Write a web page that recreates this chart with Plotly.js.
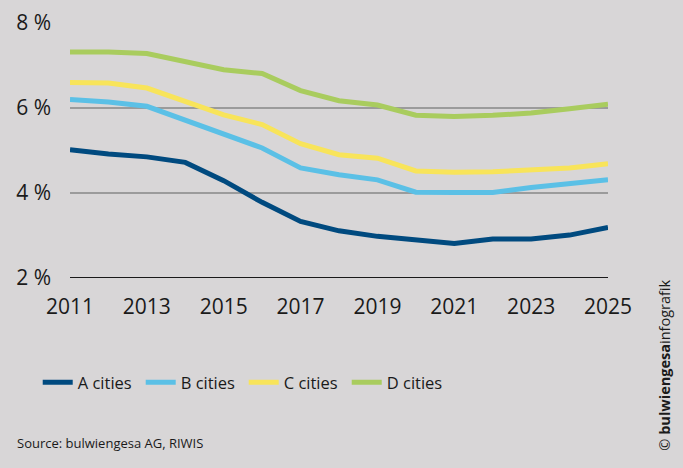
<!DOCTYPE html>
<html>
<head>
<meta charset="utf-8">
<script src="https://cdn.plot.ly/plotly-3.0.1.min.js"></script>
<style>
html,body{margin:0;padding:0;background:#d8d6d7;}
#chart{width:683px;height:468px;}
</style>
</head>
<body>
<div id="chart"></div>
<script>
const years = [2011,2012,2013,2014,2015,2016,2017,2018,2019,2020,2021,2022,2023,2024,2025];
const seriesNames = ["A cities","B cities","C cities","D cities"];
const aCities = [5.02,4.92,4.85,4.72,4.29,3.78,3.33,3.11,2.98,2.90,2.81,2.92,2.92,3.01,3.19];
const bCities = [6.20,6.14,6.04,5.71,5.37,5.06,4.59,4.43,4.31,4.02,4.01,4.01,4.13,4.22,4.31];
const cCities = [6.60,6.59,6.47,6.16,5.84,5.61,5.16,4.90,4.82,4.52,4.49,4.50,4.54,4.59,4.69];
const dCities = [7.32,7.32,7.28,7.10,6.90,6.81,6.41,6.17,6.07,5.83,5.80,5.83,5.88,5.98,6.09];
const colors = ["#004a7f","#5bc0e6","#f8e45a","#a9cc5e"];
const xTicks = [2011,2013,2015,2017,2019,2021,2023,2025];
const yTicks = [2,4,6,8];
const yTickText = ["2 %","4 %","6 %","8 %"];

const allSeries = [aCities,bCities,cCities,dCities];
const traces = allSeries.map((vals,i)=>({
  x: years, y: vals, name: seriesNames[i], type:"scatter", mode:"lines",
  line:{color:colors[i], width:5}
}));

const bodyFont = "'Open Sans',sans-serif";
const layout = {
  width:683, height:468,
  paper_bgcolor:"#d8d6d7", plot_bgcolor:"#d8d6d7",
  margin:{l:70, r:75, t:23, b:190},
  font:{family:bodyFont, color:"#1a1a1a"},
  xaxis:{
    range:[2011,2025], tickvals:xTicks, ticktext:xTicks.map(String),
    showgrid:false, zeroline:false, showline:false, ticks:"",
    tickfont:{size:21, family:bodyFont, color:"#1a1a1a"},
    ticklabelstandoff:14, fixedrange:true
  },
  yaxis:{
    range:[2,8], tickvals:yTicks, ticktext:yTickText,
    showgrid:true, gridcolor:"#9b9b9b", gridwidth:2,
    zeroline:false, showline:false, ticks:"",
    tickfont:{size:21, family:bodyFont, color:"#1a1a1a"},
    ticklabelstandoff:18, fixedrange:true
  },
  shapes:[{type:"line", xref:"paper", x0:0, x1:1, yref:"y", y0:2, y1:2,
    line:{color:"#1a1a1a", width:2}}],
  showlegend:true,
  legend:{orientation:"h", x:-0.06, xanchor:"left", y:-0.41, yanchor:"middle",
    font:{size:16.5, family:bodyFont, color:"#1a1a1a"},
    bgcolor:"rgba(0,0,0,0)", entrywidth:58, entrywidthmode:"pixels",
    itemwidth:30, traceorder:"normal"},
  annotations:[
    {text:"Source: bulwiengesa AG, RIWIS", xref:"paper", yref:"paper",
     x:-0.102, xanchor:"left", y:-0.647, yanchor:"middle", showarrow:false,
     font:{size:13, family:bodyFont, color:"#1a1a1a"}},
    {text:"© <b>bulwiengesa</b>infografik", xref:"paper", yref:"paper",
     x:1.105, xanchor:"center", y:-0.685, yanchor:"bottom", textangle:-90, showarrow:false,
     font:{size:14.5, family:bodyFont, color:"#1a1a1a"}}
  ]
};
Plotly.newPlot("chart", traces, layout, {displayModeBar:false, staticPlot:true});
</script>
</body>
</html>
